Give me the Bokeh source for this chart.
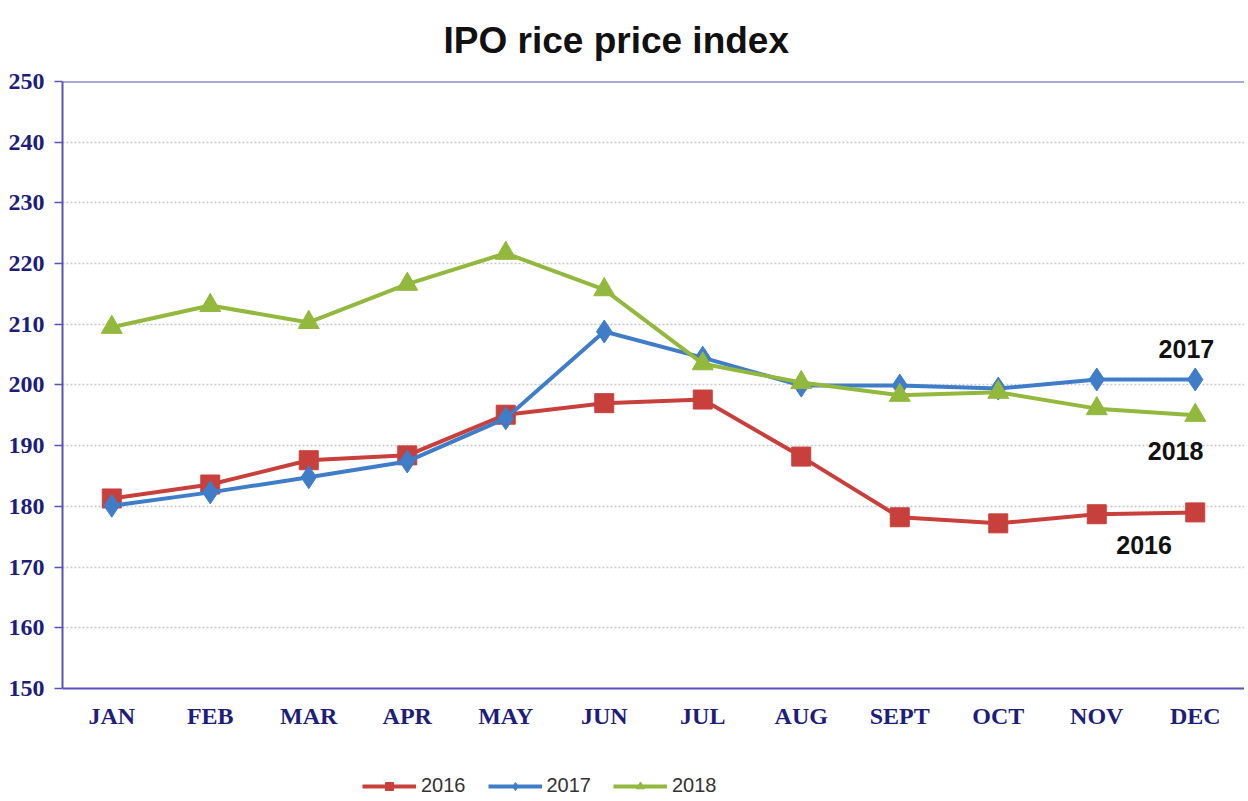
from bokeh.plotting import figure
from bokeh.models import ColumnDataSource, FactorRange, Range1d, Legend, LegendItem, Span, Label, Title
from bokeh.embed import file_html
from bokeh.resources import INLINE

months = ["JAN", "FEB", "MAR", "APR", "MAY", "JUN", "JUL", "AUG", "SEPT", "OCT", "NOV", "DEC"]
v2016 = [181.3, 183.6, 187.6, 188.4, 195.1, 197.0, 197.6, 188.2, 178.2, 177.2, 178.7, 179.0]
v2017 = [180.1, 182.3, 184.8, 187.4, 194.5, 208.8, 204.5, 199.9, 199.9, 199.4, 200.9, 200.9]
v2018 = [209.5, 213.1, 210.3, 216.6, 221.7, 215.7, 203.5, 200.4, 198.3, 198.8, 196.1, 195.0]
y_ticks = [150, 160, 170, 180, 190, 200, 210, 220, 230, 240, 250]

c16 = "#c8403c"
c17 = "#3f7dc8"
c18 = "#93b83e"
axis_col = "#5a52b8"
tick_col = "#1d1d7a"

# frame extends below the value axis so the legend can sit inside it
p = figure(frame_width=1182, frame_height=718, x_range=FactorRange(factors=months, range_padding=0),
           y_range=Range1d(131.7, 250), output_backend="svg", toolbar_location=None,
           min_border_left=62, min_border_right=0, min_border_top=2, min_border_bottom=0)
p.title = Title(text="IPO rice price index", text_font="Liberation Sans", text_font_size="37px",
                text_font_style="bold", text_color="#111111", align="left", offset=381,
                standoff=38, vertical_align="top")

p.outline_line_color = None
p.background_fill_color = "white"
p.border_fill_color = "white"

p.xgrid.grid_line_color = None
p.ygrid.grid_line_color = "#c8c8c8"
p.ygrid.grid_line_dash = "2 2"
p.ygrid.grid_line_width = 1.5

p.yaxis.ticker = y_ticks
p.yaxis.bounds = (150, 250)
p.yaxis.axis_line_color = axis_col
p.yaxis.axis_line_width = 2
p.yaxis.major_tick_line_color = axis_col
p.yaxis.major_tick_line_width = 1.5
p.yaxis.major_tick_out = 8
p.yaxis.major_tick_in = 0
p.yaxis.minor_tick_line_color = None
p.yaxis.major_label_text_font = "Liberation Serif"
p.yaxis.major_label_text_font_style = "bold"
p.yaxis.major_label_text_font_size = "24px"
p.yaxis.major_label_text_color = tick_col
p.yaxis.major_label_standoff = 10

p.xaxis.fixed_location = 150
p.xaxis.axis_line_color = axis_col
p.xaxis.axis_line_width = 2
p.xaxis.major_tick_line_color = None
p.xaxis.minor_tick_line_color = None
p.xaxis.major_label_text_font = "Liberation Serif"
p.xaxis.major_label_text_font_style = "bold"
p.xaxis.major_label_text_font_size = "24px"
p.xaxis.major_label_text_color = tick_col
p.xaxis.major_label_standoff = 9

p.add_layout(Span(location=250, dimension="width", line_color=axis_col, line_width=2))

src = ColumnDataSource(dict(m=months, a=v2016, b=v2017, c=v2018))

l16 = p.line("m", "a", source=src, line_color=c16, line_width=4)
m16 = p.scatter("m", "a", source=src, marker="square", size=19, fill_color=c16, line_color=c16)
l17 = p.line("m", "b", source=src, line_color=c17, line_width=4)
m17 = p.scatter("m", "b", source=src, marker="diamond", size=23, fill_color=c17, line_color=c17)
l18 = p.line("m", "c", source=src, line_color=c18, line_width=4)
m18 = p.scatter("m", "c", source=src, marker="triangle", size=21, fill_color=c18, line_color=c18)

legend = Legend(items=[LegendItem(label="2016", renderers=[l16, m16]),
                       LegendItem(label="2017", renderers=[l17, m17]),
                       LegendItem(label="2018", renderers=[l18, m18])],
                orientation="horizontal", location=(300, 2),
                label_text_font="Liberation Sans", label_text_font_size="20px",
                label_height=20, glyph_height=20,
                label_text_color="#333333", glyph_width=54, spacing=22, padding=0,
                border_line_color=None, background_fill_alpha=0, margin=0)
p.add_layout(legend, "center")

for txt, x, y in [("2017", 11.41, 206.0), ("2018", 11.30, 189.2), ("2016", 10.98, 173.7)]:
    p.add_layout(Label(x=x, y=y, text=txt, text_font="Liberation Sans", text_font_size="25px",
                       text_font_style="bold", text_color="#111111", text_align="center",
                       text_baseline="middle"))

open("out.html", "w").write(file_html(p, INLINE))
